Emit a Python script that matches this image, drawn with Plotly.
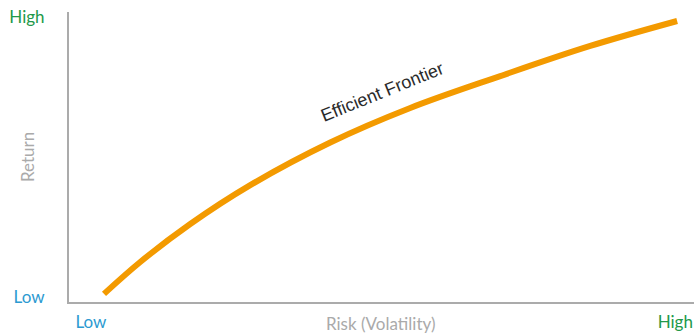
import plotly.graph_objects as go

# Efficient frontier curve (data units 0-100 on both axes)
risk = [5.6, 11.4, 19.4, 29.0, 41.8, 54.6, 69.0, 83.4, 97.3]
ret = [2.8, 13.8, 26.9, 40.3, 55.0, 66.9, 77.9, 88.3, 96.9]

x_tick_vals = [3.5, 97.0]
x_tick_text = ["Low", "High"]
y_tick_vals = [1.7, 98.4]
y_tick_text = ["Low", "High"]
tick_colors = {"Low": "#2C9AD1", "High": "#22994A"}

curve_label = "Efficient Frontier"
x_title = "Risk (Volatility)"
y_title = "Return"

def colored(labels):
    return ['<span style="color:%s">%s</span>' % (tick_colors[t], t) for t in labels]

fig = go.Figure()
fig.add_trace(go.Scatter(
    x=risk, y=ret, mode="lines",
    line=dict(color="#F39A00", width=6, shape="spline", smoothing=1.0),
    hoverinfo="skip", showlegend=False,
))

fig.update_layout(
    width=694, height=335,
    margin=dict(l=69, r=0, t=12, b=33),
    paper_bgcolor="white", plot_bgcolor="white",
    font=dict(family="Lato, sans-serif", size=17, color="#AAAAAA"),
    xaxis=dict(range=[0, 100], showgrid=False, zeroline=False,
               showline=True, linecolor="#ABABAB", linewidth=2,
               tickmode="array", tickvals=x_tick_vals, ticktext=colored(x_tick_text),
               ticks="", ticklabelstandoff=4,
               tickfont=dict(family="Lato, sans-serif", size=17)),
    yaxis=dict(range=[0, 100], showgrid=False, zeroline=False,
               showline=True, linecolor="#ABABAB", linewidth=2,
               tickmode="array", tickvals=y_tick_vals, ticktext=colored(y_tick_text),
               ticks="", ticklabelstandoff=19,
               tickfont=dict(family="Lato, sans-serif", size=17)),
    annotations=[
        dict(text=curve_label, xref="paper", yref="paper",
             x=(382 - 69) / 625, y=(302 - 92) / 290,
             xanchor="center", yanchor="middle",
             showarrow=False, textangle=-22,
             font=dict(family="Liberation Sans, Arial, sans-serif", size=18, color="#2B2B2B")),
        dict(text=x_title, xref="paper", yref="paper", x=(380 - 69) / 625, y=(302 - 323) / 290,
             xanchor="center", yanchor="middle",
             showarrow=False, font=dict(family="Lato, sans-serif", size=17, color="#AAAAAA")),
        dict(text=y_title, xref="paper", yref="paper", x=(27 - 69) / 625, y=(302 - 157) / 290,
             xanchor="center", yanchor="middle",
             showarrow=False, textangle=-90,
             font=dict(family="Lato, sans-serif", size=17, color="#AAAAAA")),
    ],
)
fig.write_html("out.html")
